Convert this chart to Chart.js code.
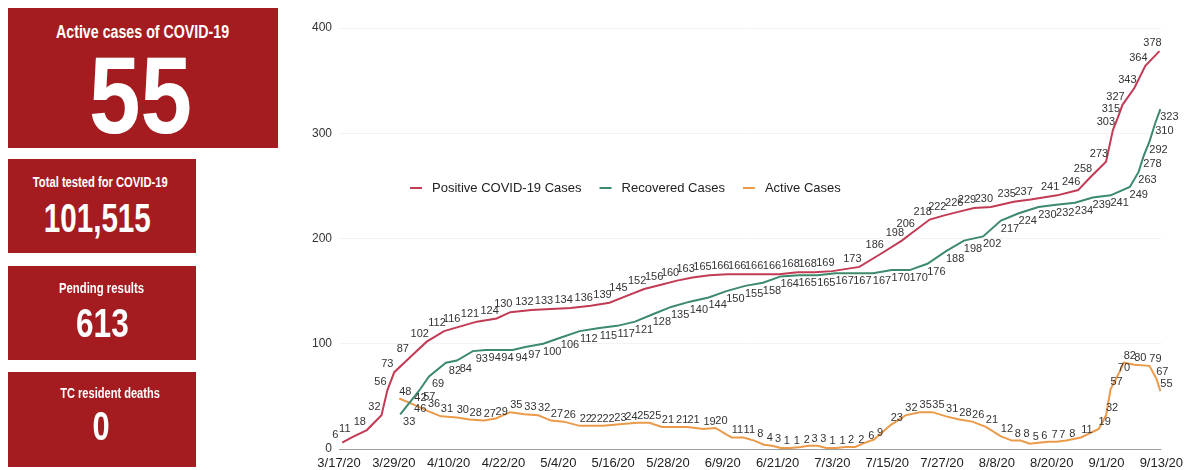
<!DOCTYPE html>
<html>
<head>
<meta charset="utf-8">
<title>COVID-19 cases</title>
<script src="https://cdn.jsdelivr.net/npm/chart.js@4.4.1/dist/chart.umd.min.js"></script>
<style>
    body { margin: 0; width: 1190px; height: 470px; overflow: hidden; background: #fff; position: relative; }
    #chart { position: absolute; left: 0; top: 0; }
    .box { position: absolute; background: #a41c1f; color: #fff;
           font-family: "Liberation Sans", Arial, sans-serif; font-weight: bold; }
    .t { position: absolute; left: 0; width: 100%; text-align: center; line-height: 1; white-space: nowrap; }
    .t span { display: inline-block; transform-origin: center; }
</style>
</head>
<body>
<canvas id="chart" width="1190" height="470"></canvas>

<div class="box" style="left:8px; top:8px; width:270px; height:140px;">
    <div class="t" style="top:15px; font-size:18px;"><span style="transform:scaleX(0.79)">Active cases of COVID-19</span></div>
    <div class="t" style="top:33px; font-size:109px; margin-left:-2px;"><span style="transform:scaleX(0.85)">55</span></div>
</div>
<div class="box" style="left:8px; top:159px; width:188px; height:94px;">
    <div class="t" style="top:16px; font-size:14px; margin-left:-2px;"><span style="transform:scaleX(0.8)">Total tested for COVID-19</span></div>
    <div class="t" style="top:39px; font-size:40px; margin-left:-5px;"><span style="transform:scaleX(0.74)">101,515</span></div>
</div>
<div class="box" style="left:8px; top:266px; width:188px; height:94px;">
    <div class="t" style="top:15px; font-size:14px;"><span style="transform:scaleX(0.81)">Pending results</span></div>
    <div class="t" style="top:37px; font-size:40px;"><span style="transform:scaleX(0.79)">613</span></div>
</div>
<div class="box" style="left:8px; top:372px; width:188px; height:95px;">
    <div class="t" style="top:14px; font-size:14px; margin-left:8px;"><span style="transform:scaleX(0.79)">TC resident deaths</span></div>
    <div class="t" style="top:34px; font-size:40px; margin-left:-1px;"><span style="transform:scaleX(0.77)">0</span></div>
</div>

<script>
// Tick labels, one every 12 days starting 3/17/20
const tickLabels = ['3/17/20', '3/29/20', '4/10/20', '4/22/20', '5/4/20', '5/16/20', '5/28/20', '6/9/20',
    '6/21/20', '7/3/20', '7/15/20', '7/27/20', '8/8/20', '8/20/20', '9/1/20', '9/13/20'];

// Days since 3/17/20 and values
const positiveDays = [0.7, 2.8, 6.1, 9.3, 10.6, 12.1, 15.5, 19.2, 23, 26.2, 30.2, 34.5, 37.5, 42.1, 46.4,
    50.7, 55.1, 59.2, 62.7, 66.8, 70.5, 74, 77.4, 81.1, 85, 88.7, 92.4, 96.3, 100.4, 104.1,
    108, 113.9, 118.8, 123.2, 125.6, 129.3, 132.5, 136.2, 139, 142.7, 147.7, 151.4, 157.2, 161.8,
    164.4, 167.9, 169.4, 170.5, 171.5, 174.1, 176.5, 179.6];
const positiveCases = [6, 11, 18, 32, 56, 73, 87, 102, 112, 116, 121, 124, 130, 132, 133,
    134, 136, 139, 145, 152, 156, 160, 163, 165, 166, 166, 166, 166, 168, 168,
    169, 173, 186, 198, 206, 218, 222, 226, 229, 230, 235, 237, 241, 246,
    258, 273, 303, 315, 327, 343, 364, 378];

const recoveredDays = [13.4, 15.8, 17.8, 19.7, 23.4, 25.8, 29.3, 32.1, 34.9, 38, 40.8, 44.7, 48.6, 52.7, 57,
    60.9, 64.8, 68.7, 72.7, 76.8, 80.9, 84.8, 88.9, 92.8, 96.7, 100.6, 104.7, 108.7, 112.6, 116.9,
    121, 124.9, 128.8, 132.9, 136.8, 141, 144.9, 148.8, 153.1, 157, 161.1, 165, 168.9, 173.1,
    175, 176.1, 177.4, 178.7, 179.8];
const recoveredCases = [33, 46, 57, 69, 82, 84, 93, 94, 94, 94, 97, 100, 106, 112, 115,
    117, 121, 128, 135, 140, 144, 150, 155, 158, 164, 165, 165, 167, 167, 167,
    170, 170, 176, 188, 198, 202, 217, 224, 230, 232, 234, 239, 241, 249,
    263, 278, 292, 310, 323];

const activeDays = [13.2, 16.5, 19.5, 22.3, 25.8, 28.6, 31.7, 34.3, 37.5, 40.6, 43.6, 46.4, 49.2, 52.7, 55.1,
    57.7, 60.3, 62.7, 65.3, 67.9, 70.7, 73.8, 76.3, 79.8, 82.4, 85.9, 88.5, 90.9, 93, 94.8,
    96.7, 98.9, 101.1, 102.8, 104.7, 106.7, 108.9, 110.8, 113, 115.2, 117.1, 120.8, 124, 127.1, 129.9,
    132.9, 135.8, 138.6, 141.6, 144.9, 147.3, 149.2, 151.2, 153.1, 155.3, 157, 159.2, 162.4, 166.3, 167.9,
    168.9, 170.5, 171.8, 174.1, 177.4, 178.9, 179.8];
const activeCases = [48, 42, 36, 31, 30, 28, 27, 29, 35, 33, 32, 27, 26, 22, 22,
    22, 23, 24, 25, 25, 21, 21, 21, 19, 20, 11, 11, 8, 4, 3,
    1, 1, 2, 3, 3, 1, 1, 2, 2, 6, 9, 23, 32, 35, 35,
    31, 28, 26, 21, 12, 8, 8, 5, 6, 7, 7, 8, 11, 19, 32,
    57, 70, 82, 80, 79, 67, 55];

const seriesNames = ['Positive COVID-19 Cases', 'Recovered Cases', 'Active Cases'];

// Helper to pair days with values
function toPoints(days, values) {
    return days.map((d, i) => ({ x: d, y: values[i] }));
}

// Where each series puts its value labels, relative to the point
const labelOffsets = [[-7, -8], [9, 8], [6, -7]];

// Draws the number next to every point
const pointLabels = {
    id: 'pointLabels',
    afterDatasetsDraw(chart) {
        const ctx = chart.ctx;
        ctx.save();
        ctx.font = '11px "Liberation Sans", Arial, sans-serif';
        ctx.fillStyle = '#333';
        ctx.textAlign = 'center';
        ctx.textBaseline = 'middle';
        chart.data.datasets.forEach((ds, i) => {
            const meta = chart.getDatasetMeta(i);
            const off = labelOffsets[i];
            meta.data.forEach((pt, j) => {
                ctx.fillText(ds.data[j].y, pt.x + off[0], pt.y + off[1]);
            });
        });
        ctx.restore();
    }
};

// Legend sits inside the plot, so draw it by hand
const insideLegend = {
    id: 'insideLegend',
    afterDraw(chart) {
        const ctx = chart.ctx;
        ctx.save();
        ctx.font = '13px "Liberation Sans", Arial, sans-serif';
        ctx.textBaseline = 'middle';
        let x = 410;
        const y = 188;
        chart.data.datasets.forEach(ds => {
            ctx.strokeStyle = ds.borderColor;
            ctx.lineWidth = 2;
            ctx.beginPath();
            ctx.moveTo(x, y);
            ctx.lineTo(x + 12, y);
            ctx.stroke();
            ctx.fillStyle = '#222';
            ctx.fillText(ds.label, x + 22, y);
            x += 22 + ctx.measureText(ds.label).width + 18;
        });
        ctx.restore();
    }
};

const lineStyle = { borderWidth: 2, pointRadius: 0, tension: 0, fill: false };

new Chart(document.getElementById('chart').getContext('2d'), {
    type: 'line',
    data: {
        datasets: [
            { label: seriesNames[0], data: toPoints(positiveDays, positiveCases), borderColor: '#c23b55', ...lineStyle },
            { label: seriesNames[1], data: toPoints(recoveredDays, recoveredCases), borderColor: '#3c8a6c', ...lineStyle },
            { label: seriesNames[2], data: toPoints(activeDays, activeCases), borderColor: '#eb9a4a', ...lineStyle }
        ]
    },
    options: {
        responsive: false,
        animation: false,
        layout: { padding: { top: 28, right: 0 } },
        plugins: {
            legend: { display: false },
            tooltip: { enabled: false }
        },
        scales: {
            x: {
                type: 'linear',
                min: 0,
                max: 180,
                grid: { display: false, drawTicks: false },
                border: { display: false },
                ticks: {
                    stepSize: 12,
                    autoSkip: false,
                    maxRotation: 0,
                    padding: 7,
                    color: '#222',
                    font: { size: 13, family: '"Liberation Sans", Arial, sans-serif' },
                    callback: v => tickLabels[Math.round(v / 12)]
                },
                afterFit: s => { s.height = 21; }
            },
            y: {
                min: 0,
                max: 400,
                border: { display: false },
                grid: {
                    drawTicks: false,
                    color: ctx => ctx.tick.value === 0 ? '#9e9e9e' : '#f3f3f3'
                },
                ticks: {
                    stepSize: 100,
                    padding: 7,
                    color: '#333',
                    font: { size: 12, family: '"Liberation Sans", Arial, sans-serif' }
                },
                afterFit: s => { s.width = 339; }
            }
        }
    },
    plugins: [pointLabels, insideLegend]
});
</script>
</body>
</html>
